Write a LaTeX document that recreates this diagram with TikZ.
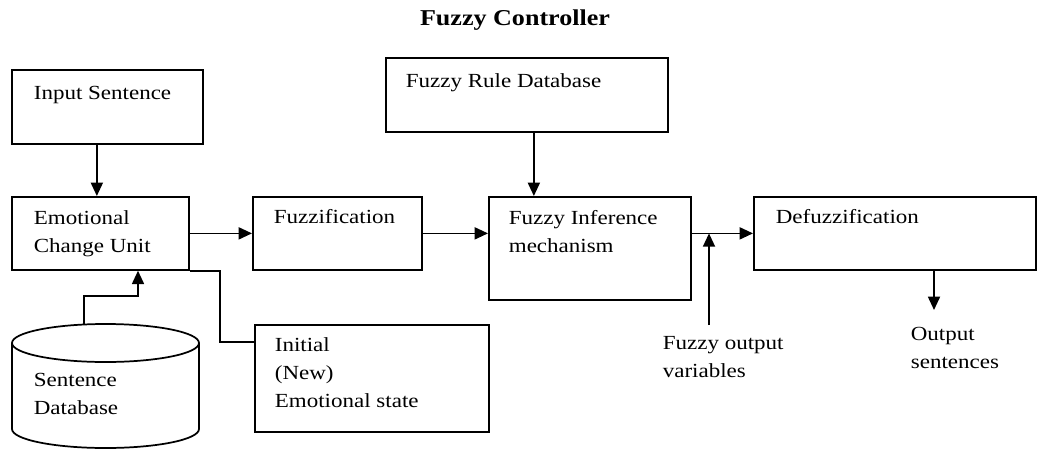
\documentclass[tikz,border=0pt]{standalone}
\usepackage{fontspec}
\setmainfont{Liberation Serif}[FakeStretch=1.15]
\usetikzlibrary{arrows.meta}
\newlength{\px}
\setlength{\px}{0.75pt}
\begin{document}
\begin{tikzpicture}[x=0.75pt, y=-0.75pt, line width=1.3pt,
    box/.style={draw, rectangle, anchor=north west, inner sep=0pt},
    txt/.style={inner sep=0pt, align=left, font=\fontsize{15}{21}\selectfont},
    arr/.style={-{Triangle[length=10pt,width=9pt]}}]
    \useasboundingbox (0,0) rectangle (1038,450);

    % Title:
    \node [font=\fontsize{17}{20}\selectfont\bfseries, anchor=base] (title) at (515,25) {Fuzzy Controller};

    % Boxes:
    % placed by their top left corner
    \node [box, minimum width=191\px, minimum height=74\px] (inp) at (11,69) {};
    \node [box, minimum width=282\px, minimum height=74\px] (rule) at (385,57) {};
    \node [box, minimum width=177\px, minimum height=73\px] (ecu) at (11,196) {};
    \node [box, minimum width=169\px, minimum height=73\px] (fuz) at (252,196) {};
    \node [box, minimum width=202\px, minimum height=103\px] (fim) at (488,196) {};
    \node [box, minimum width=282\px, minimum height=73\px] (dfz) at (753,196) {};
    \node [box, minimum width=234\px, minimum height=107\px] (ini) at (254,324) {};

    % The database drum:
    % sides and bottom half, then the top ellipse
    \draw (12,343) -- (12,429) arc [start angle=180, end angle=0, x radius=93.5, y radius=19] -- (199,343);
    \draw (105.5,343) ellipse [x radius=93.5, y radius=19];

    % Texts:
    \node [txt, anchor=base west] (inptxt) at (33,99.5) {Input Sentence};
    \node [txt, anchor=base west] (ruletxt) at (405,87.5) {Fuzzy Rule Database};
    \node [txt, anchor=north west] (ecutxt) at (33,209.5) {Emotional\\Change Unit};
    \node [txt, anchor=base west] (fuztxt) at (273,223) {Fuzzification};
    \node [txt, anchor=north west] (fimtxt) at (508,209.5) {Fuzzy Inference\\mechanism};
    \node [txt, anchor=base west] (dfztxt) at (775,223) {Defuzzification};
    \node [txt, anchor=north west] (initxt) at (274,337) {Initial\\(New)\\Emotional state};
    \node [txt, anchor=north west] (dbtxt) at (33,372) {Sentence\\Database};
    \node [txt, anchor=north west] (fovtxt) at (662,336) {Fuzzy output\\variables};
    \node [txt, anchor=north west] (outtxt) at (910,326) {Output\\sentences};

    % free ends and bends
    \coordinate (dbtop) at (84,324.5);
    \coordinate (dbup) at (138,296);
    \coordinate (iniin) at (220,342);
    \coordinate (fovtip) at (709,325);
    \coordinate (outend) at (934,310);

    % Connectors:
    \draw [arr] ([xshift=-10.5\px]inp.south) -- ([xshift=-10.5\px]inp.south |- ecu.north);
    \draw [arr] ([xshift=7\px]rule.south) -- ([xshift=7\px]rule.south |- fim.north);
    \draw [arr] (ecu) -- (fuz);
    \draw [arr] (fuz.east) -- (fuz.east -| fim.west);
    \draw [arr] (fim.east |- dfz.west) -- (dfz.west);
    \draw [arr] (dbtop) |- (dbup) -- (dbup |- ecu.south);
    \draw (ecu.south east) -| (iniin) -- (iniin -| ini.west);
    \draw [arr] (fovtip) -- (fovtip |- dfz.west);
    \draw [arr] (outend |- dfz.south) -- (outend);
\end{tikzpicture}
\end{document}
